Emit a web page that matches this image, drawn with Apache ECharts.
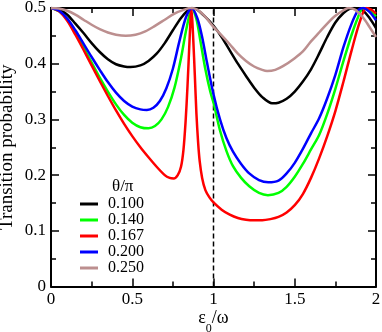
<!DOCTYPE html>
<html>
<head>
<meta charset="utf-8">
<script src="https://cdn.jsdelivr.net/npm/echarts@6/dist/echarts.min.js"></script>
<style>html,body{margin:0;padding:0;background:#fff}#c{width:382px;height:332px}</style>
</head>
<body>
<div id="c"></div>
<script>
// theta/pi = 0.100 (black)
var xBlack = [0, 0.05, 0.1, 0.15, 0.2, 0.25, 0.3, 0.35, 0.4, 0.45, 0.49, 0.55, 0.6, 0.65, 0.7, 0.75, 0.8, 0.84, 0.87, 0.9, 0.95, 1.0, 1.05, 1.1, 1.15, 1.2, 1.25, 1.3, 1.36, 1.4, 1.45, 1.5, 1.55, 1.6, 1.65, 1.7, 1.75, 1.8, 1.84, 1.87, 1.92, 1.96, 2.0];
var yBlack = [0.5, 0.497, 0.488, 0.472, 0.455, 0.437, 0.421, 0.408, 0.399, 0.395, 0.394, 0.397, 0.405, 0.418, 0.437, 0.46, 0.482, 0.495, 0.5, 0.497, 0.484, 0.468, 0.448, 0.424, 0.4, 0.378, 0.357, 0.34, 0.329, 0.33, 0.337, 0.35, 0.368, 0.39, 0.418, 0.448, 0.474, 0.491, 0.499, 0.5, 0.495, 0.482, 0.464];
// theta/pi = 0.140 (green)
var xGreen = [0, 0.05, 0.1, 0.15, 0.2, 0.25, 0.3, 0.35, 0.4, 0.45, 0.5, 0.55, 0.6, 0.64, 0.68, 0.72, 0.76, 0.8, 0.835, 0.868, 0.895, 0.92, 0.95, 0.98, 1.0, 1.04, 1.08, 1.12, 1.17, 1.22, 1.28, 1.335, 1.4, 1.45, 1.5, 1.55, 1.6, 1.65, 1.7, 1.75, 1.8, 1.85, 1.89, 1.92, 1.96, 2.0];
var yGreen = [0.5, 0.494, 0.479, 0.456, 0.43, 0.402, 0.375, 0.35, 0.327, 0.308, 0.294, 0.286, 0.284, 0.288, 0.3, 0.322, 0.357, 0.41, 0.465, 0.5, 0.48, 0.44, 0.39, 0.35, 0.33, 0.28, 0.243, 0.216, 0.195, 0.18, 0.168, 0.164, 0.168, 0.179, 0.197, 0.22, 0.246, 0.272, 0.31, 0.355, 0.405, 0.452, 0.484, 0.5, 0.495, 0.485];
// theta/pi = 0.167 (red)
var xRed = [0, 0.05, 0.1, 0.15, 0.2, 0.25, 0.3, 0.35, 0.4, 0.45, 0.5, 0.55, 0.6, 0.65, 0.7, 0.73, 0.755, 0.78, 0.8, 0.815, 0.828, 0.84, 0.85, 0.857, 0.863, 0.869, 0.876, 0.885, 0.895, 0.905, 0.915, 0.93, 0.95, 0.975, 1.0, 1.05, 1.1, 1.15, 1.2, 1.25, 1.3, 1.35, 1.4, 1.45, 1.5, 1.55, 1.6, 1.65, 1.7, 1.75, 1.8, 1.85, 1.9, 1.94, 1.97, 2.0];
var yRed = [0.5, 0.494, 0.477, 0.452, 0.425, 0.397, 0.369, 0.342, 0.316, 0.292, 0.27, 0.25, 0.232, 0.215, 0.2, 0.195, 0.194, 0.2, 0.215, 0.245, 0.295, 0.36, 0.425, 0.47, 0.5, 0.48, 0.44, 0.38, 0.31, 0.26, 0.225, 0.195, 0.173, 0.16, 0.151, 0.138, 0.129, 0.123, 0.12, 0.119, 0.119, 0.121, 0.125, 0.133, 0.146, 0.166, 0.195, 0.23, 0.27, 0.315, 0.368, 0.424, 0.475, 0.5, 0.497, 0.49];
// theta/pi = 0.200 (blue)
var xBlue = [0, 0.05, 0.1, 0.15, 0.2, 0.25, 0.3, 0.35, 0.4, 0.45, 0.5, 0.55, 0.59, 0.63, 0.67, 0.71, 0.75, 0.79, 0.83, 0.865, 0.9, 0.93, 0.96, 1.0, 1.04, 1.08, 1.12, 1.17, 1.22, 1.28, 1.337, 1.4, 1.45, 1.5, 1.55, 1.6, 1.65, 1.7, 1.75, 1.8, 1.85, 1.89, 1.92, 1.96, 2.0];
var yBlue = [0.5, 0.495, 0.481, 0.46, 0.436, 0.412, 0.389, 0.367, 0.348, 0.333, 0.323, 0.318, 0.317, 0.321, 0.333, 0.356, 0.391, 0.44, 0.483, 0.5, 0.482, 0.448, 0.402, 0.345, 0.3, 0.266, 0.242, 0.22, 0.203, 0.191, 0.187, 0.19, 0.203, 0.222, 0.247, 0.275, 0.302, 0.338, 0.38, 0.43, 0.472, 0.496, 0.5, 0.493, 0.478];
// theta/pi = 0.250 (rosy brown)
var xBrown = [0, 0.05, 0.1, 0.15, 0.2, 0.25, 0.3, 0.35, 0.4, 0.46, 0.52, 0.58, 0.64, 0.7, 0.76, 0.82, 0.86, 0.9, 0.95, 1.0, 1.05, 1.1, 1.15, 1.2, 1.25, 1.3, 1.33, 1.38, 1.43, 1.5, 1.55, 1.6, 1.65, 1.7, 1.75, 1.8, 1.83, 1.87, 1.92, 1.96, 2.0];
var yBrown = [0.5, 0.499, 0.495, 0.488, 0.479, 0.47, 0.462, 0.456, 0.452, 0.45, 0.452, 0.458, 0.468, 0.479, 0.49, 0.497, 0.5, 0.497, 0.484, 0.466, 0.451, 0.435, 0.418, 0.405, 0.395, 0.389, 0.387, 0.389, 0.396, 0.41, 0.422, 0.44, 0.456, 0.472, 0.486, 0.496, 0.5, 0.497, 0.483, 0.466, 0.448];

var seriesNames = ['0.100', '0.140', '0.167', '0.200', '0.250'];
var seriesColors = ['#000000', '#00ff00', '#ff0000', '#0000ff', '#bc8f8f'];
var dashX = [1, 1];
var dashY = [0, 0.5];
var legendTitle = 'θ/π';
var yName = 'Transition probability';

function pairs(xs, ys) { return xs.map(function (x, i) { return [x, ys[i]]; }); }
var allX = [xBlack, xGreen, xRed, xBlue, xBrown];
var allY = [yBlack, yGreen, yRed, yBlue, yBrown];

var FONT = "'Liberation Serif', 'Times New Roman', serif";

var series = seriesNames.map(function (n, i) {
  return {
    name: n, type: 'line', data: pairs(allX[i], allY[i]),
    showSymbol: false, symbol: 'none', smooth: 0.3, clip: true,
    lineStyle: { color: seriesColors[i], width: 2.5 },
    itemStyle: { color: seriesColors[i] }, z: 3
  };
});
series.push({
  name: 'dash', type: 'line', data: pairs(dashX, dashY), symbol: 'none', silent: true,
  lineStyle: { color: '#000', width: 1.5, type: [5, 3] }, z: 2
});

function xAx(pos, show) {
  return {
    type: 'value', min: 0, max: 2, interval: 0.5, position: pos,
    axisLine: { show: true, onZero: false, lineStyle: { color: '#000', width: 2 } },
    axisTick: { show: true, inside: true, length: 8, lineStyle: { color: '#000', width: 1.5 } },
    minorTick: { show: true, splitNumber: 2, length: 5, lineStyle: { color: '#000', width: 1.5 } },
    splitLine: { show: false },
    axisLabel: { show: show, color: '#000', fontFamily: FONT, fontSize: 17, margin: 5 },
    name: show ? '{a|ε}{s|0}{a|/ω}' : '', nameLocation: 'middle', nameGap: 22,
    nameMoveOverlap: false,
    nameTextStyle: {
      verticalAlign: 'top',
      rich: {
        a: { fontFamily: FONT, fontSize: 18, color: '#000', lineHeight: 20 },
        s: { fontFamily: FONT, fontSize: 12, color: '#000', lineHeight: 20, verticalAlign: 'bottom', padding: [0, 0, -6, 0] }
      }
    }
  };
}
function yAx(pos, show) {
  return {
    type: 'value', min: 0, max: 0.5, interval: 0.1, position: pos,
    axisLine: { show: true, onZero: false, lineStyle: { color: '#000', width: 2 } },
    axisTick: { show: true, inside: true, length: 8, lineStyle: { color: '#000', width: 1.5 } },
    minorTick: { show: true, splitNumber: 2, length: 5, lineStyle: { color: '#000', width: 1.5 } },
    splitLine: { show: false },
    axisLabel: { show: show, color: '#000', fontFamily: FONT, fontSize: 17, margin: 5 },
    name: show ? yName : '', nameLocation: 'middle', nameGap: 34,
    nameMoveOverlap: false,
    nameTextStyle: { fontFamily: FONT, fontSize: 19, color: '#000' }
  };
}

var chart = echarts.init(document.getElementById('c'), null, { renderer: 'canvas' });
chart.setOption({
  animation: false,
  backgroundColor: '#fff',
  grid: { left: 51, right: 6, top: 8, bottom: 45.5, containLabel: false, outerBoundsMode: 'none' },
  xAxis: [xAx('bottom', true), xAx('top', false)],
  yAxis: [yAx('left', true), yAx('right', false)],
  legend: {
    data: seriesNames, orient: 'vertical', left: 80, top: 196, padding: 0,
    itemGap: 0, itemWidth: 18, itemHeight: 3, icon: 'rect',
    textStyle: { fontFamily: FONT, fontSize: 16, color: '#000', lineHeight: 15.8, padding: [0, 0, 0, 5] }
  },
  graphic: [{
    type: 'text', left: 112, top: 178,
    style: { text: legendTitle, font: '17px ' + FONT, fill: '#000' }
  }],
  series: series
});
</script>
</body>
</html>
